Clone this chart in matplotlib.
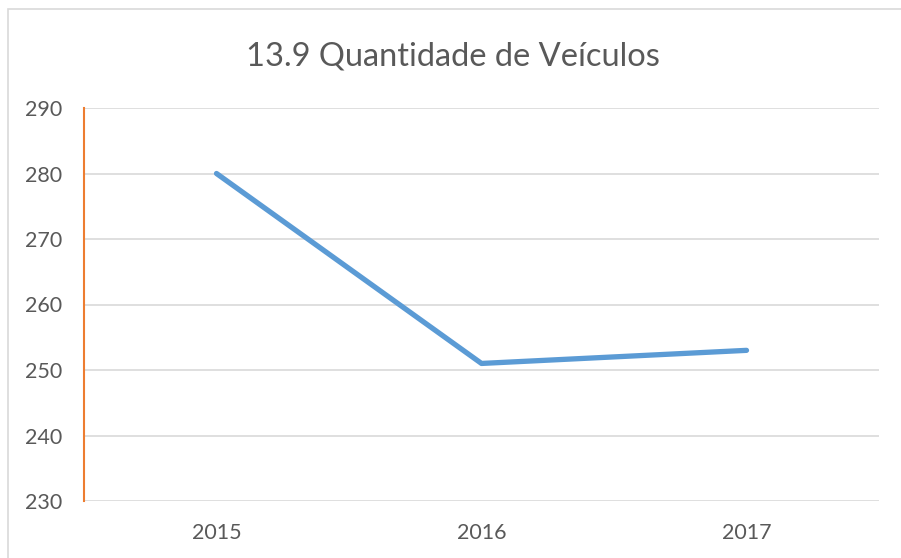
import matplotlib.pyplot as plt
from matplotlib.patches import Rectangle

years = ['2015', '2016', '2017']
veiculos = [280, 251, 253]
yticks = [230, 240, 250, 260, 270, 280, 290]

plt.rcParams['font.family'] = ['Lato', 'DejaVu Sans']
txt = '#595959'

fig = plt.figure(figsize=(9.01, 5.58), dpi=100)
# chart border (Excel style), open to the right and bottom
fig.patches.append(Rectangle((8 / 901, -0.1), 1.2, 1 - 9 / 558 + 0.1, transform=fig.transFigure,
                             fill=False, edgecolor='#D9D9D9', linewidth=1.2))

ax = fig.add_axes([84 / 901, 1 - 501 / 558, (879 - 84) / 901, (501 - 108) / 558])
x = range(len(years))
ax.plot(x, veiculos, color='#5B9BD5', linewidth=3.8, solid_capstyle='round', solid_joinstyle='round', zorder=3)

ax.set_xlim(-0.5, len(years) - 0.5)
ax.set_ylim(230, 290)
ax.set_yticks(yticks)
ax.set_xticks(list(x))
ax.set_xticklabels(years)
ax.tick_params(axis='both', length=0, labelsize=15.5, labelcolor=txt)
ax.tick_params(axis='y', pad=16)
ax.tick_params(axis='x', pad=16)
ax.grid(axis='y', color='#D9D9D9', linewidth=1.2)
ax.set_axisbelow(True)
for s in ['top', 'right', 'bottom']:
    ax.spines[s].set_visible(False)
ax.spines['left'].set_color('#ED7D31')
ax.spines['left'].set_linewidth(1.5)

fig.text(0.503, 1 - 56 / 558, '13.9 Quantidade de Veículos', ha='center', va='center',
         fontsize=23.5, color=txt)

fig.savefig('out.png', dpi=100)
